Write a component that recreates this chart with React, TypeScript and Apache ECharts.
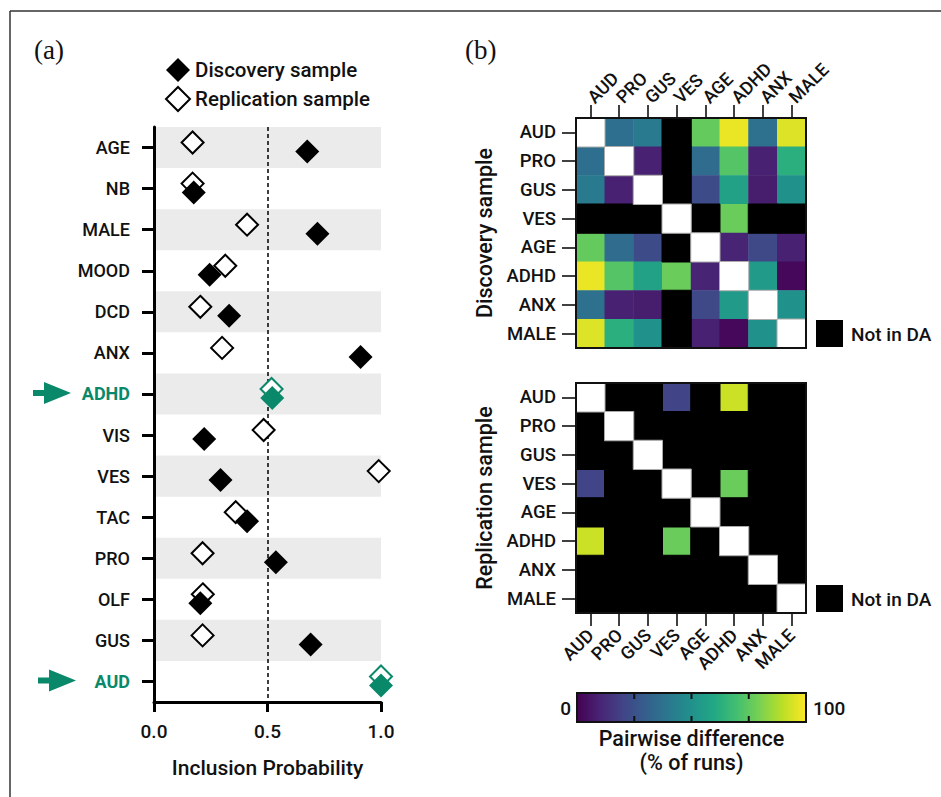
import React, { useEffect, useRef } from 'react';
import * as echarts from 'echarts';

// ---------- Panel (a) data ----------
const rowLabels = ['AGE', 'NB', 'MALE', 'MOOD', 'DCD', 'ANX', 'ADHD', 'VIS', 'VES', 'TAC', 'PRO', 'OLF', 'GUS', 'AUD'];
const discoveryProb = [0.675, 0.175, 0.72, 0.245, 0.331, 0.91, 0.521, 0.221, 0.293, 0.41, 0.537, 0.204, 0.69, 1.0];
const replicationProb = [0.17, 0.17, 0.41, 0.314, 0.204, 0.3, 0.518, 0.483, 0.99, 0.36, 0.214, 0.215, 0.214, 1.0];
const highlighted = ['ADHD', 'AUD'];
const thresholdProb = 0.5;

// ---------- Panel (b) data ----------
const heatLabels = ['AUD', 'PRO', 'GUS', 'VES', 'AGE', 'ADHD', 'ANX', 'MALE'];
const N = null;
const discoveryDiff: (number | null)[][] = [
  [N, 36, 41, N, 76, 97, 37, 95],
  [36, N, 9, N, 35, 73, 9, 63],
  [41, 9, N, N, 23, 57, 8, 50],
  [N, N, N, N, N, 77, N, N],
  [76, 35, 23, N, N, 10, 22, 9],
  [97, 73, 57, 77, 10, N, 54, 2],
  [37, 9, 8, N, 22, 54, N, 50],
  [95, 63, 50, N, 9, 2, 50, N],
];
const replicationDiff: (number | null)[][] = [
  [N, N, N, 20, N, 92, N, N],
  [N, N, N, N, N, N, N, N],
  [N, N, N, N, N, N, N, N],
  [20, N, N, N, N, 77, N, N],
  [N, N, N, N, N, N, N, N],
  [92, N, N, 77, N, N, N, N],
  [N, N, N, N, N, N, N, N],
  [N, N, N, N, N, N, N, N],
];
const colorRange = [0, 100];

const viridis = ['#440154', '#482475', '#414487', '#355f8d', '#2a788e', '#21918c', '#22a884', '#44bf70', '#7ad151', '#bddf26', '#fde725'];
const TEAL = '#0a886a';
const FONT = 'Roboto';

function splitMatrix(m: (number | null)[][]) {
  const vals: number[][] = [];
  const na: number[][] = [];
  const diag: number[][] = [];
  m.forEach((row, i) =>
    row.forEach((v, j) => {
      if (i === j) diag.push([j, i, 0]);
      else if (v === null) na.push([j, i, 0]);
      else vals.push([j, i, v]);
    })
  );
  return { vals, na, diag };
}

export default function App() {
  const ref = useRef<HTMLDivElement>(null);

  useEffect(() => {
    document.body.style.margin = '0';
    if (!ref.current) return;
    const chart = echarts.init(ref.current, undefined, { renderer: 'svg' });

    const top = splitMatrix(discoveryDiff);
    const bot = splitMatrix(replicationDiff);

    const scatterData = (arr: number[], hlStyle: any) =>
      arr.map((v, i) =>
        highlighted.includes(rowLabels[i]) ? { value: [v, i], itemStyle: hlStyle } : [v, i]
      );

    const heatXAxis = (gridIndex: number, position: 'top' | 'bottom', rotate: number, margin: number) => ({
      gridIndex,
      type: 'category',
      data: heatLabels,
      position,
      axisLine: { show: false },
      axisTick: { show: true, alignWithLabel: true, length: 13, lineStyle: { color: '#000', width: 1.5 } },
      axisLabel: { rotate, margin, fontSize: 18, interval: 0, color: '#111', fontFamily: FONT, fontWeight: 500 },
      splitLine: { show: false },
    });
    const heatYAxis = (gridIndex: number, name: string) => ({
      gridIndex,
      type: 'category',
      data: heatLabels,
      inverse: true,
      axisLine: { show: false },
      axisTick: { show: true, alignWithLabel: true, length: 14, lineStyle: { color: '#000', width: 1.5 } },
      axisLabel: { margin: 20, fontSize: 18.5, interval: 0, color: '#111', fontFamily: FONT, fontWeight: 500 },
      splitLine: { show: false },
      name,
      nameLocation: 'middle',
      nameGap: 81,
      nameTextStyle: { fontSize: 21.5, fontWeight: 500, color: '#111', fontFamily: FONT },
    });
    const heatSeries = (idx: number, data: number[][], style: any) => ({
      type: 'heatmap',
      xAxisIndex: idx,
      yAxisIndex: idx,
      data,
      itemStyle: style,
      emphasis: { disabled: true },
      silent: true,
    });

    // colorbar geometry (legend annotation)
    const cbX = 577, cbY = 693, cbW = 229, cbH = 29;
    const cbTicks = [0.25, 0.5, 0.75];

    const option: any = {
      animation: false,
      textStyle: { fontFamily: FONT, color: '#111' },
      legend: {
        data: ['Discovery sample', 'Replication sample'],
        orient: 'vertical',
        left: 160,
        top: 53,
        padding: 5,
        itemWidth: 24,
        itemHeight: 24,
        itemGap: 4,
        selectedMode: false,
        textStyle: { fontSize: 20.5, color: '#111', fontWeight: 500, fontFamily: FONT },
      },
      grid: [
        { left: 154, top: 127, width: 227, height: 575 },
        { left: 576, top: 118, width: 230, height: 230, show: true, borderColor: '#111', borderWidth: 2, backgroundColor: 'transparent', z: 5 },
        { left: 576, top: 383, width: 230, height: 230, show: true, borderColor: '#111', borderWidth: 2, backgroundColor: 'transparent', z: 5 },
      ],
      xAxis: [
        {
          gridIndex: 0,
          type: 'value',
          min: 0,
          max: 1,
          interval: 0.5,
          axisLine: { show: true, lineStyle: { color: '#000', width: 3 } },
          axisTick: { show: true, length: 10, lineStyle: { color: '#000', width: 3 } },
          axisLabel: { formatter: (v: number) => v.toFixed(1), fontSize: 19, margin: 20, color: '#111', fontWeight: 500 },
          splitLine: { show: false },
          name: 'Inclusion Probability',
          nameLocation: 'middle',
          nameGap: 55,
          nameTextStyle: { fontSize: 21, fontWeight: 500, color: '#111' },
        },
        heatXAxis(1, 'top', -45, 18),
        heatXAxis(2, 'bottom', 45, 19),
      ],
      yAxis: [
        {
          gridIndex: 0,
          type: 'category',
          data: rowLabels,
          inverse: true,
          axisLine: { show: true, lineStyle: { color: '#000', width: 3 } },
          axisTick: { show: true, alignWithLabel: true, length: 12, lineStyle: { color: '#000', width: 3 } },
          axisLabel: {
            interval: 0,
            margin: 24,
            fontSize: 18,
            color: '#111',
            fontWeight: 500,
            formatter: (v: string) => (highlighted.includes(v) ? `{hl|${v}}` : v),
            rich: { hl: { color: TEAL, fontWeight: 'bold', fontSize: 18, fontFamily: FONT } },
          },
          splitLine: { show: false },
          splitArea: { show: true, interval: 0, areaStyle: { color: ['#ebebeb', 'rgba(255,255,255,0)'] } },
        },
        heatYAxis(1, 'Discovery sample'),
        heatYAxis(2, 'Replication sample'),
      ],
      visualMap: [
        {
          type: 'continuous',
          show: false,
          min: colorRange[0],
          max: colorRange[1],
          dimension: 2,
          seriesIndex: [2, 5],
          inRange: { color: viridis },
        },
        {
          type: 'continuous',
          show: false,
          min: 0,
          max: 1,
          dimension: 2,
          seriesIndex: [3, 6],
          inRange: { color: ['#000', '#000'] },
        },
        {
          type: 'continuous',
          show: false,
          min: 0,
          max: 1,
          dimension: 2,
          seriesIndex: [4, 7],
          inRange: { color: ['#fff', '#fff'] },
        },
      ],
      series: [
        {
          name: 'Replication sample',
          type: 'scatter',
          xAxisIndex: 0,
          yAxisIndex: 0,
          symbol: 'diamond',
          symbolSize: 22,
          symbolOffset: [0, -5],
          itemStyle: { color: '#fff', borderColor: '#000', borderWidth: 2, opacity: 1 },
          emphasis: { disabled: true },
          data: scatterData(replicationProb, { color: '#fff', borderColor: TEAL, borderWidth: 2 }),
          markLine: {
            z: 1,
            silent: true,
            symbol: 'none',
            label: { show: false },
            lineStyle: { type: [4, 3], color: '#000', width: 1.5 },
            data: [{ xAxis: thresholdProb }],
          },
          z: 3,
        },
        {
          name: 'Discovery sample',
          type: 'scatter',
          xAxisIndex: 0,
          yAxisIndex: 0,
          symbol: 'diamond',
          symbolSize: 24,
          symbolOffset: [0, 4],
          itemStyle: { color: '#000', opacity: 1 },
          emphasis: { disabled: true },
          data: scatterData(discoveryProb, { color: TEAL }),
          z: 4,
        },
        heatSeries(1, top.vals, { borderWidth: 0 }),
        heatSeries(1, top.na, { color: '#000', borderColor: '#000', borderWidth: 1 }),
        heatSeries(1, top.diag, { color: '#fff', borderColor: '#aaa', borderWidth: 1 }),
        heatSeries(2, bot.vals, { borderWidth: 0 }),
        heatSeries(2, bot.na, { color: '#000', borderColor: '#000', borderWidth: 1 }),
        heatSeries(2, bot.diag, { color: '#fff', borderColor: '#aaa', borderWidth: 1 }),
      ],
    };

    chart.setOption(option);

    const arrow = (y: number, x0: number, xh: number, xt: number) => ({
      type: 'polygon',
      silent: true,
      shape: {
        points: [
          [x0, y - 3], [xh, y - 3], [xh, y - 11], [xt, y], [xh, y + 11], [xh, y + 3], [x0, y + 3],
        ],
      },
      style: { fill: TEAL },
    });
    const yADHD = chart.convertToPixel({ yAxisIndex: 0 }, rowLabels.indexOf('ADHD')) as number;
    const yAUD = chart.convertToPixel({ yAxisIndex: 0 }, rowLabels.indexOf('AUD')) as number;

    const txt = (x: number, y: number, text: string, size: number, align = 'left', extra: any = {}) => ({
      type: 'text',
      x,
      y,
      silent: true,
      style: { text, fontSize: size, fontFamily: FONT, fontWeight: 500, fill: '#111', align, verticalAlign: 'middle', ...extra },
    });

    const graphic: any[] = [
      { type: 'line', silent: true, shape: { x1: 10, y1: 11, x2: 941, y2: 11 }, style: { stroke: '#333', lineWidth: 1.5 } },
      { type: 'line', silent: true, shape: { x1: 10, y1: 11, x2: 10, y2: 797 }, style: { stroke: '#333', lineWidth: 1.5 } },
      txt(34, 50, '(a)', 27, 'left', { fontFamily: 'Liberation Serif', fontWeight: 'normal' }),
      txt(465, 50, '(b)', 27, 'left', { fontFamily: 'Liberation Serif', fontWeight: 'normal' }),
      arrow(yADHD - 1, 33, 44, 71),
      arrow(yAUD - 1, 38, 49, 76),
      // Not in DA keys
      { type: 'rect', silent: true, shape: { x: 816, y: 320, width: 27, height: 27 }, style: { fill: '#000' } },
      txt(851, 334, 'Not in DA', 19),
      { type: 'rect', silent: true, shape: { x: 816, y: 585, width: 27, height: 27 }, style: { fill: '#000' } },
      txt(851, 599, 'Not in DA', 19),
      // colorbar
      {
        type: 'rect',
        silent: true,
        shape: { x: cbX, y: cbY, width: cbW, height: cbH },
        style: {
          fill: {
            type: 'linear', x: 0, y: 0, x2: 1, y2: 0,
            colorStops: viridis.map((c, i) => ({ offset: i / (viridis.length - 1), color: c })),
          },
          stroke: '#111',
          lineWidth: 2,
        },
      },
      ...cbTicks.flatMap((t) => [
        { type: 'line', silent: true, shape: { x1: cbX + t * cbW, y1: cbY, x2: cbX + t * cbW, y2: cbY + 6 }, style: { stroke: '#111', lineWidth: 2 } },
        { type: 'line', silent: true, shape: { x1: cbX + t * cbW, y1: cbY + cbH - 6, x2: cbX + t * cbW, y2: cbY + cbH }, style: { stroke: '#111', lineWidth: 2 } },
      ]),
      txt(cbX - 6, cbY + cbH / 2 + 1, String(colorRange[0]), 19, 'right'),
      txt(cbX + cbW + 7, cbY + cbH / 2 + 1, String(colorRange[1]), 19, 'left'),
      txt(cbX + cbW / 2, 738, 'Pairwise difference', 21.5, 'center'),
      txt(cbX + cbW / 2, 762, '(% of runs)', 21.5, 'center'),
    ];

    chart.setOption({ graphic });

    return () => chart.dispose();
  }, []);

  return <div ref={ref} style={{ width: 941, height: 797 }} />;
}
